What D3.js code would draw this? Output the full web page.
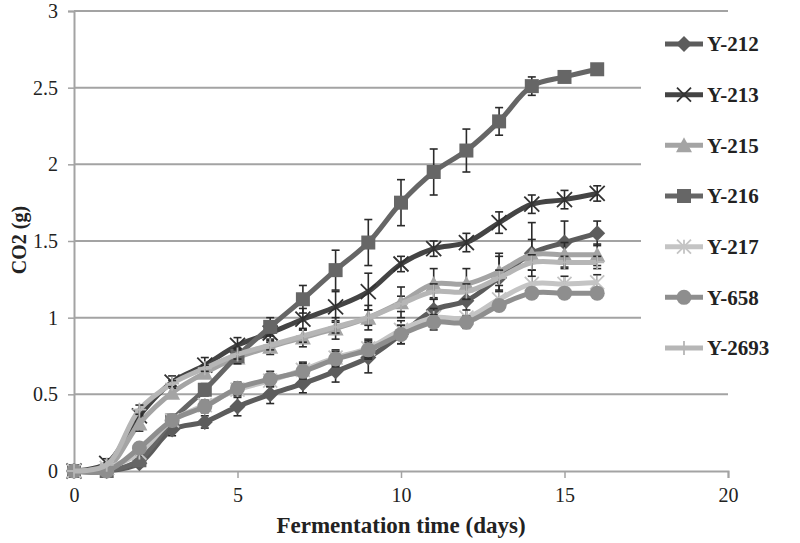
<!DOCTYPE html>
<html><head><meta charset="utf-8">
<script src="https://cdn.jsdelivr.net/npm/d3@7"></script>
<style>
html,body{margin:0;padding:0;background:#fff;}
text{font-family:"Liberation Serif","Times New Roman",serif;}
</style></head>
<body><svg id="chart" width="800" height="543"></svg>
<script>
const days = [0,1,2,3,4,5,6,7,8,9,10,11,12,13,14,15,16];
const seriesNames = ["Y-212","Y-213","Y-215","Y-216","Y-217","Y-658","Y-2693"];
const y212 = [0,0,0.05,0.27,0.32,0.42,0.50,0.57,0.65,0.74,0.89,1.05,1.11,1.26,1.42,1.49,1.55];
const y213 = [0,0.05,0.36,0.58,0.69,0.82,0.90,0.99,1.07,1.17,1.35,1.45,1.49,1.62,1.74,1.77,1.81];
const y215 = [0,0.02,0.31,0.51,0.64,0.74,0.81,0.87,0.93,1.00,1.10,1.22,1.22,1.30,1.41,1.41,1.41];
const y216 = [0,0,0.07,0.33,0.53,0.75,0.94,1.12,1.31,1.49,1.75,1.95,2.09,2.28,2.51,2.57,2.62];
const y217 = [0,0.02,0.12,0.33,0.43,0.53,0.59,0.66,0.74,0.80,0.92,1.00,1.00,1.12,1.22,1.22,1.23];
const y658 = [0,0,0.15,0.33,0.42,0.54,0.60,0.65,0.73,0.79,0.89,0.97,0.97,1.08,1.16,1.16,1.16];
const y2693 = [0,0.04,0.40,0.57,0.67,0.76,0.82,0.88,0.94,1.00,1.09,1.17,1.17,1.26,1.36,1.36,1.36];
const e212 = [0,0,0.02,0.04,0.04,0.06,0.06,0.06,0.07,0.10,0.06,0.08,0.10,0.14,0.20,0.14,0.08];
const e213 = [0,0.03,0.04,0.04,0.05,0.05,0.06,0.07,0.10,0.12,0.05,0.05,0.06,0.07,0.06,0.06,0.05];
const e215 = [0,0.02,0.05,0.03,0.03,0.04,0.05,0.06,0.07,0.08,0.10,0.10,0.10,0.12,0.10,0.08,0.07];
const e216 = [0,0,0.02,0.03,0.04,0.05,0.06,0.09,0.13,0.15,0.15,0.15,0.14,0.09,0.06,0.02,0.02];
const e217 = [0,0.01,0.02,0.03,0.03,0.04,0.04,0.05,0.05,0.06,0.06,0.06,0.05,0.05,0.05,0.05,0.05];
const e658 = [0,0,0.02,0.03,0.04,0.04,0.05,0.05,0.05,0.06,0.06,0.05,0.04,0.03,0.03,0.03,0.03];
const e2693 = [0,0.01,0.03,0.02,0.02,0.03,0.03,0.04,0.04,0.05,0.05,0.05,0.05,0.05,0.05,0.04,0.04];
const xTicks = [0,5,10,15,20];
const yTicks = [0,0.5,1,1.5,2,2.5,3];
const xTitle = "Fermentation time (days)";
const yTitle = "CO2 (g)";

const values = [y212,y213,y215,y216,y217,y658,y2693];
const errors = [e212,e213,e215,e216,e217,e658,e2693];
const colors = ["#5c5c5c","#444444","#a4a4a4","#666666","#c4c4c4","#8e8e8e","#b6b6b6"];
const markers = ["diamond","x","triangle","square","asterisk","circle","plus"];

const svg = d3.select("#chart");
const x = d3.scaleLinear().domain([0,20]).range([74,728]);
const y = d3.scaleLinear().domain([0,3]).range([471,11]);
const gridCol = "#a3a3a3";

svg.append("g").selectAll("line").data(yTicks.filter(t=>t>0)).join("line")
  .attr("x1",x(0)).attr("x2",x(20)).attr("y1",d=>y(d)).attr("y2",d=>y(d))
  .attr("stroke",gridCol).attr("stroke-width",2);

const yAxis = svg.append("g").attr("transform",`translate(${x(0)},0)`)
  .call(d3.axisLeft(y).tickValues(yTicks).tickSize(6).tickPadding(10).tickFormat(d3.format("")));
yAxis.select(".domain").attr("stroke",gridCol).attr("stroke-width",2);
yAxis.selectAll(".tick line").attr("stroke",gridCol).attr("stroke-width",1.5);
yAxis.selectAll("text").attr("font-size",20).attr("fill","#222").style("font-family","Liberation Serif");

const xAxis = svg.append("g").attr("transform",`translate(0,${y(0)})`)
  .call(d3.axisBottom(x).tickValues(xTicks).tickSize(7).tickPadding(10).tickFormat(d3.format("")));
xAxis.select(".domain").attr("stroke",gridCol).attr("stroke-width",2);
xAxis.selectAll(".tick line").attr("stroke",gridCol).attr("stroke-width",1.5);
xAxis.selectAll("text").attr("font-size",20).attr("fill","#222").style("font-family","Liberation Serif");

svg.append("text").attr("x",401).attr("y",533).attr("text-anchor","middle")
  .attr("font-size",23).attr("font-weight","bold").attr("fill","#222").text(xTitle);
svg.append("text").attr("transform","translate(26,240) rotate(-90)").attr("text-anchor","middle")
  .attr("font-size",20).attr("font-weight","bold").attr("fill","#222").text(yTitle);

function drawMarker(g, type, cx, cy, col, s){
  const h = s/2;
  if(type==="diamond"){
    g.append("path").attr("d",`M${cx},${cy-h-1}L${cx+h+1},${cy}L${cx},${cy+h+1}L${cx-h-1},${cy}Z`).attr("fill",col);
  } else if(type==="square"){
    g.append("rect").attr("x",cx-h).attr("y",cy-h).attr("width",s).attr("height",s).attr("fill",col);
  } else if(type==="triangle"){
    g.append("path").attr("d",`M${cx},${cy-h-1}L${cx+h+1},${cy+h}L${cx-h-1},${cy+h}Z`).attr("fill",col);
  } else if(type==="circle"){
    g.append("circle").attr("cx",cx).attr("cy",cy).attr("r",h+0.5).attr("fill",col);
  } else if(type==="x"){
    g.append("path").attr("d",`M${cx-h},${cy-h}L${cx+h},${cy+h}M${cx-h},${cy+h}L${cx+h},${cy-h}`).attr("stroke",col).attr("stroke-width",1.8);
  } else if(type==="asterisk"){
    g.append("path").attr("d",`M${cx-h},${cy-h}L${cx+h},${cy+h}M${cx-h},${cy+h}L${cx+h},${cy-h}M${cx},${cy-h}L${cx},${cy+h}`).attr("stroke",col).attr("stroke-width",1.8);
  } else if(type==="plus"){
    g.append("path").attr("d",`M${cx-h},${cy}L${cx+h},${cy}M${cx},${cy-h}L${cx},${cy+h}`).attr("stroke",col).attr("stroke-width",1.8);
  }
}

const line = d3.line().x((d,i)=>x(days[i])).y(d=>y(d)).curve(d3.curveCatmullRom.alpha(0.5));
const plot = svg.append("g");
values.forEach((vals,si)=>{
  const g = plot.append("g");
  const col = colors[si];
  g.append("path").datum(vals).attr("d",line).attr("fill","none")
    .attr("stroke",col).attr("stroke-width",5).attr("stroke-linejoin","round");
  const eg = g.append("g").attr("stroke","#2b2b2b").attr("stroke-width",1.6);
  vals.forEach((v,i)=>{
    const e = errors[si][i];
    if(e<=0.015) return;
    const cx = x(days[i]);
    eg.append("line").attr("x1",cx).attr("x2",cx).attr("y1",y(v+e)).attr("y2",y(v-e));
    eg.append("line").attr("x1",cx-4).attr("x2",cx+4).attr("y1",y(v+e)).attr("y2",y(v+e));
    eg.append("line").attr("x1",cx-4).attr("x2",cx+4).attr("y1",y(v-e)).attr("y2",y(v-e));
  });
  const mg = g.append("g");
  vals.forEach((v,i)=>{
    const mcol = (markers[si]==="x") ? "#333" : col;
    drawMarker(mg, markers[si], x(days[i]), y(v), mcol, markers[si]==="x" ? 15 : 14);
  });
});

const lg = svg.append("g");
lg.append("rect").attr("x",641).attr("y",16).attr("width",159).attr("height",356).attr("fill","#fff");
const legY = d3.scaleLinear().domain([0,6]).range([44,348]);
seriesNames.forEach((name,i)=>{
  const cy = legY(i);
  lg.append("line").attr("x1",665).attr("x2",703).attr("y1",cy).attr("y2",cy)
    .attr("stroke",colors[i]).attr("stroke-width",5);
  const mcol = (markers[i]==="x") ? "#333" : colors[i];
  drawMarker(lg, markers[i], 684, cy, mcol, 14);
  lg.append("text").attr("x",707).attr("y",cy).attr("dy","0.35em")
    .attr("font-size",21).attr("font-weight","bold").attr("fill","#222").text(name);
});
</script></body></html>
